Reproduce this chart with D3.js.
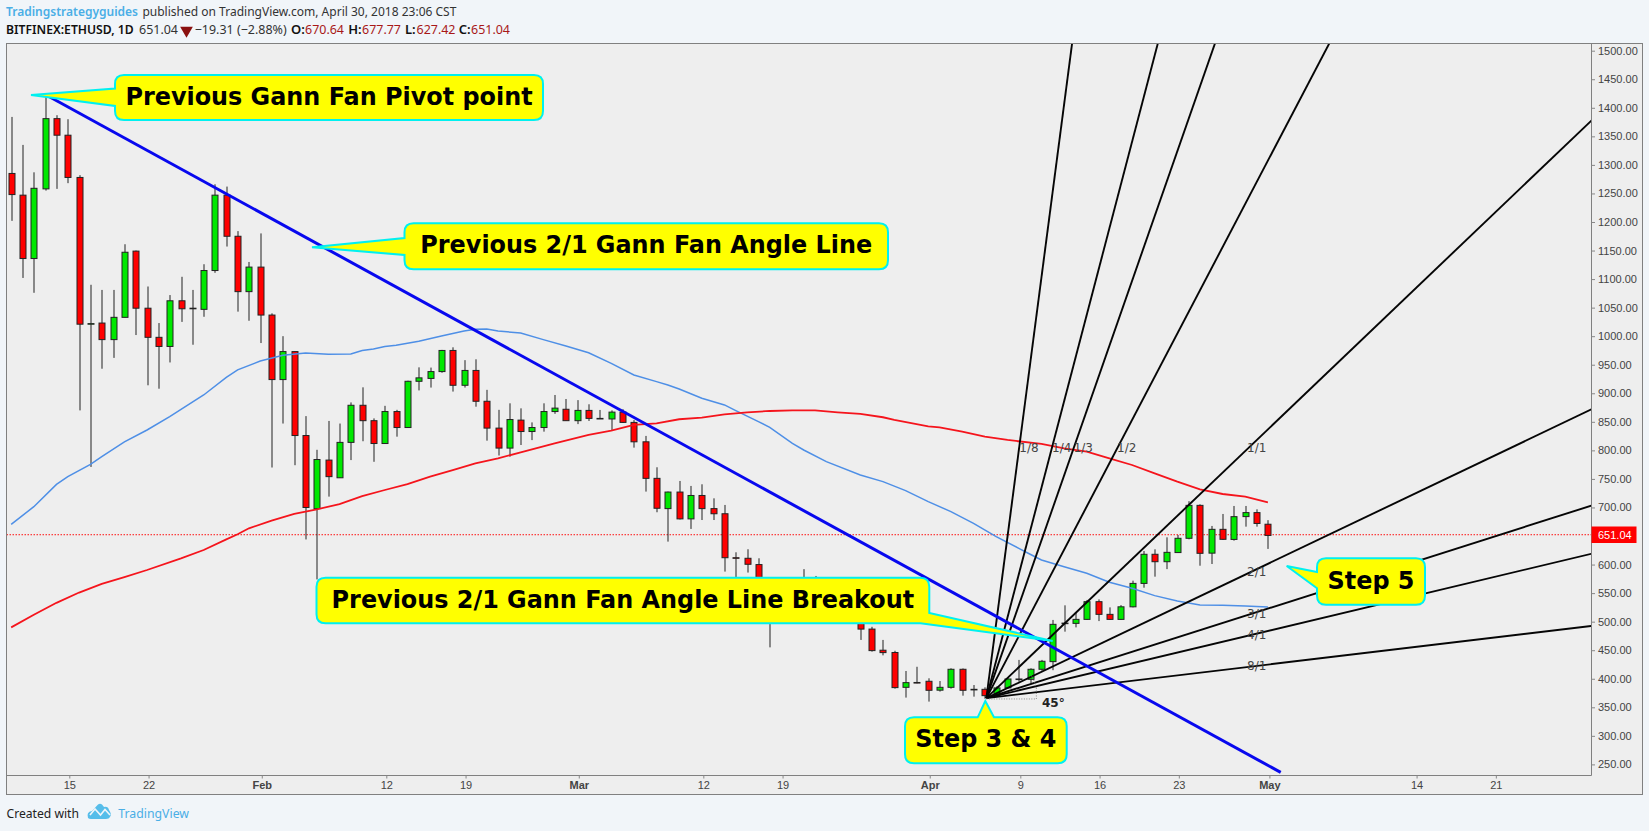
<!DOCTYPE html>
<html>
<head>
<meta charset="utf-8">
<script src="https://cdn.jsdelivr.net/npm/d3@7/dist/d3.min.js"></script>
<style>
html,body{margin:0;padding:0;background:#f1f5f9;overflow:hidden}
svg{display:block}
</style>
</head>
<body>
<svg id="c" width="1649" height="831"></svg>
<script>
// ---------- data: daily candles starting 2018-01-10 ----------
const firstDay = "2018-01-10";
const opens = [
 1285,1247,1136,1258,1381,1352,1278,1021,1023,994,1033,1149,1049,998,982,1062,1048,1047,1115,1247,1175,1078,
 1121,1037,924,973,826,698,783,752,814,879,852,812,868,840,921,926,938,975,914,940,886,839,804,853,833,840,868,872,
 852,870,856,855,867,849,815,751,698,727,680,721,698,689,612,611,600,545,538,555,525,560,540,537,525,523,487,450,446,385,393.5,
 395.6,380,385,416.6,381.5,381.5,371,384,399.6,399,416.6,430,497,497,504,535,512.8,504,526,567,618,605,621,646,703.7,620,661.7,644,684,691,
 670.64];
const highs = [
 1384,1335,1287,1422,1387,1380,1282,1090,1081,1081,1161,1150,1087,1023,1072,1104,1081,1126,1266,1262,1184,1130,
 1180,1040,1000,973,860,801,851.5,847,884,910.4,856,878,871,922,945.4,945,976,980.5,958,959.5,906,871,882.4,873.6,849,882.4,897,890,
 888,880.7,870.8,870,872,853,825.3,770.4,727.8,746.4,737.7,740.6,716,704.4,621.5,626.8,611,578,560,562,592,580,560,555,540,530,491,468,449,413.6,421,
 400.8,396,418.3,418,389,385,387,400.8,433,418.3,433,503,528.6,516,538,539,525,529,571.8,623.8,626.7,647.7,651.8,711,705.5,667.6,688.6,702.6,702.6,696.7,
 677.77];
const lows = [
 1202,1102,1076,1255,1258,1268,870,771,943,962,1033,1002,914,908,954,1025,985,1034,1111,1157,1043,1027,
 988,770,847,774,644,574,719,752,783,816,780,812,824,840,905,910,936,903,910,876.5,817,791,789,809.4,818,832.8,864,852,
 846,851.5,855,835.8,848,804.8,727.8,691.6,640.2,679,662.4,678,678,587.7,572,586,535,455,525,515,515,530,510,515,505,468,447.5,441,382.7,367,392,
 360,377.5,382.7,370.4,368.7,365,370,383,395,392,414,415,482.5,490,503,501,503,503,525,559.5,578.8,592,620.8,644.2,598,601,643,641.9,666.4,666.4,
 627.42];
const closes = [
 1248,1136,1259,1381,1352,1278,1021,1022,994,1033,1147,1049,998,982,1062,1048,1049,1115,1247,1175,1078,1121,
 1037,924,973,826,700,784,754,814,879,852,812,868,840,921,927,938,975,914,940,886,839,804,854,833,840,868,874,852,
 870,856,855.5,867,849,815,751,698.6,727,680,721,698,689,612,611.5,600.5,545,538,555,525,560,540,537,525,523,487,449.3,445.8,384.5,393.2,393,
 379.8,385,416.6,379.8,381,370.4,384,399.6,399,416.6,430.6,495.3,497.5,504,535,512.8,504,526,567,618,605,621.4,646,703.7,619.7,661.7,644.2,683.9,691,672,
 651.04];

const lastPrice = 651.04;

// moving averages: candle index and value at each point
const blueIdx = [0,2,4,5,7,8,10,12,14,17,19,20,22,24,26,28,30,31,32,33,34,36,38,40,41,42,43,45,47,49,51,53,55,57,58,59,61,63,64,66,67,69,70,72,75,77,79,81,83,85,87,89,90,91,93,95,97,99,101,103,105,107,109,111];
const blueVal = [670.5,701.4,740.5,754,775.6,789,815,835.7,859,897,928,941,956.5,966.5,970.5,968.2,968.8,975,977.5,982,984,991,1000.3,1009,1012,1012.6,1009,1005.6,994,982.9,971,952.5,932,920.4,914.6,907.6,891.2,879.6,869.6,850.4,840.4,812.4,800.7,780.3,757,745.3,729.5,710.3,692.7,672.3,648.9,628.4,618,608,596.3,584.7,568.9,558.4,545.6,536.2,529.2,528.6,527.4,525.7];
const redIdx = [0,2,4,6,8,10,12,15,17,19,20,21,23,25,27,29,31,33,35,37,39,41,43,45,48,51,53,55,57,59,61,63,65,67,69,71,73,75,77,78,81,82,84,86,88,91,93,95,97,99,101,103,105,107,109,111];
const redVal = [490,512,533,551,566,578,590.5,610.9,625.5,644.2,653,663.5,677,688.6,696.8,706,720,730.6,741,754,765.6,777.3,786,796.6,812.4,827,834.6,844.5,847.4,854.5,857.4,863.2,866.7,869,870.2,870.2,866.7,863.8,858,853.3,842.2,840.4,832.9,824.1,818.2,811.2,803.6,797.7,786,774.4,759.8,745.2,731.8,723.6,719,709];

// previous 2/1 trend line
const trendDates = ["2018-01-13","2018-05-02"];
const trendVals = [1422,236];

// Gann fan
const fanOriginDate = "2018-04-06";
const fanOriginVal = 366;
const fanUnitPerDay = 18.93;
const fanLabels = ["1/8","1/4","1/3","1/2","1/1","2/1","3/1","4/1","8/1"];
const fanPriceFactor = [8,4,3,2,1,1/2,1/3,1/4,1/8];

// axes
const priceTicks = [250,300,350,400,450,500,550,600,700,750,800,850,900,950,1000,1050,1100,1150,1200,1250,1300,1350,1400,1450,1500];
const dateTicks = ["2018-01-15","2018-01-22","2018-02-01","2018-02-12","2018-02-19","2018-03-01","2018-03-12","2018-03-19","2018-04-01","2018-04-09","2018-04-16","2018-04-23","2018-05-01","2018-05-14","2018-05-21"];
const dateTickLabels = ["15","22","Feb","12","19","Mar","12","19","Apr","9","16","23","May","14","21"];

// callout texts
const callouts = ["Previous Gann Fan Pivot point","Previous 2/1 Gann Fan Angle Line","Previous 2/1 Gann Fan Angle Line Breakout","Step 3 & 4","Step 5"];

// ---------- layout ----------
const pane = {l:6.5,t:43.5,r:1591.5,b:775.5,outerR:1642.5,outerB:794.5};
const svg = d3.select("#c");
const day = s => new Date(s+"T00:00:00Z");
const x = d3.scaleUtc().domain([day("2018-01-15"),day("2018-05-01")]).range([69.3,1269.4]);
const y = d3.scaleLinear().domain([1500,250]).range([50.7,764.4]);
const dateOf = i => d3.utcDay.offset(day(firstDay),i);
const candles = opens.map((o,i)=>({date:dateOf(i),o,h:highs[i],l:lows[i],c:closes[i]}));

const SANS = "'Noto Sans','Open Sans',sans-serif";
const ARIAL = "'Liberation Sans',Arial,sans-serif";
const BOLD = "'DejaVu Sans',sans-serif";

// frames
svg.append("rect").attr("x",pane.l).attr("y",pane.t).attr("width",pane.outerR-pane.l).attr("height",pane.outerB-pane.t)
  .attr("fill","#eeeeee").attr("stroke","#808080").attr("stroke-width",1);
svg.append("path").attr("d",`M${pane.r},${pane.t}V${pane.b}H${pane.l}`).attr("fill","none").attr("stroke","#808080");
svg.append("clipPath").attr("id","pane").append("rect")
  .attr("x",pane.l+.5).attr("y",pane.t+.5).attr("width",pane.r-pane.l-1).attr("height",pane.b-pane.t-1);

// axes
const yAxis = svg.append("g").attr("transform",`translate(${pane.r},0)`)
  .call(d3.axisRight(y).tickValues(priceTicks).tickSize(3.5).tickPadding(3).tickFormat(d3.format(".2f")));
yAxis.select(".domain").remove();
yAxis.selectAll("line").attr("stroke","#888");
yAxis.selectAll("text").attr("font-family",ARIAL).attr("font-size",11).attr("fill","#444");

const xAxis = svg.append("g").attr("transform",`translate(0,${pane.b})`)
  .call(d3.axisBottom(x).tickValues(dateTicks.map(day)).tickSize(3).tickPadding(3).tickFormat((d,i)=>dateTickLabels[i]));
xAxis.select(".domain").remove();
xAxis.selectAll("line").attr("stroke","#888");
xAxis.selectAll("text").attr("font-family",ARIAL).attr("font-size",11).attr("fill","#444")
  .attr("font-weight",(d,i)=>/[A-Z]/.test(dateTickLabels[i])?"bold":"normal");

const plot = svg.append("g").attr("clip-path","url(#pane)");

// last price line
plot.append("line").attr("x1",pane.l).attr("x2",pane.r).attr("y1",y(lastPrice)-.7).attr("y2",y(lastPrice)-.7)
  .attr("stroke","#ff1010").attr("stroke-width",1).attr("stroke-dasharray","1.5 1.5");

// candles and moving averages sit half a bar step left of the date ticks
const series = plot.append("g").attr("transform","translate(-1.5,0)");
const cg = series.append("g");
cg.selectAll("line").data(candles).join("line")
  .attr("x1",d=>Math.round(x(d.date))+.5).attr("x2",d=>Math.round(x(d.date))+.5)
  .attr("y1",d=>y(d.h)).attr("y2",d=>y(d.l)).attr("stroke","#222").attr("stroke-width",1);
cg.selectAll("rect").data(candles).join("rect")
  .attr("x",d=>Math.round(x(d.date))-2.5).attr("width",6)
  .attr("y",d=>y(Math.max(d.o,d.c))).attr("height",d=>Math.max(.6,Math.abs(y(d.o)-y(d.c))))
  .attr("fill",d=>d.c>=d.o?"#00e800":"#ff0000").attr("stroke","#222").attr("stroke-width",1);

const line = d3.line().x(d=>x(dateOf(d[0]))).y(d=>y(d[1]));
series.append("path").attr("d",line(blueIdx.map((k,i)=>[k,blueVal[i]]))).attr("fill","none").attr("stroke","#4e8fe6").attr("stroke-width",1.5);
series.append("path").attr("d",line(redIdx.map((k,i)=>[k,redVal[i]]))).attr("fill","none").attr("stroke","#f5141c").attr("stroke-width",1.8);

// Gann fan
const ox = x(day(fanOriginDate)), oy = y(fanOriginVal);
fanPriceFactor.forEach(f=>{
  const far = 400;
  plot.append("line").attr("x1",ox).attr("y1",oy)
    .attr("x2",x(d3.utcDay.offset(day(fanOriginDate),far)))
    .attr("y2",y(fanOriginVal+fanUnitPerDay*far*f))
    .attr("stroke","#050505").attr("stroke-width",1.9);
});
// 45 degree arc
const rr = 50;
plot.append("path").attr("d",`M${ox},${oy+.8}H${ox+rr}V${oy-10}`).attr("fill","none")
  .attr("stroke","#888").attr("stroke-width",1).attr("stroke-dasharray","1 1.5");
plot.append("path").attr("d",`M${ox+rr},${oy-10}A${rr},${rr} 0 0 0 ${ox+rr*.8},${oy-30}`).attr("fill","none")
  .attr("stroke","#888").attr("stroke-width",1).attr("stroke-dasharray","1 1.5");
plot.append("text").attr("x",1042).attr("y",707).attr("font-family",BOLD).attr("font-weight","bold").attr("font-size",12).attr("fill","#222").text("45°");

const fanLabelPos = [[1029,447],[1061.7,447],[1083.3,447],[1126.7,447],[1256.7,447],[1256.7,571.7],[1256.7,613.3],[1256.7,634.3],[1256.7,665.7]];
fanLabels.forEach((t,i)=>{
  plot.append("text").attr("x",fanLabelPos[i][0]).attr("y",fanLabelPos[i][1]+4.5).attr("text-anchor","middle")
    .attr("font-family",BOLD).attr("font-size",12).attr("fill","#444").text(t);
});

// previous trend line
plot.append("line").attr("x1",x(day(trendDates[0]))).attr("y1",y(trendVals[0]))
  .attr("x2",x(day(trendDates[1]))).attr("y2",y(trendVals[1]))
  .attr("stroke","#0808ee").attr("stroke-width",3);

// callouts
function bubble(b){
  const r=9,{x0,y0,x1,y1}=b;
  let d=`M${x0+r},${y0}`;
  if(b.top) d+=`L${b.top[0]},${y0}L${b.tip[0]},${b.tip[1]}L${b.top[1]},${y0}`;
  d+=`L${x1-r},${y0}Q${x1},${y0} ${x1},${y0+r}`;
  if(b.corner){ d+=`L${x1},${b.corner[0]}L${b.tip[0]},${b.tip[1]}L${b.corner[1]},${y1}`; }
  else { d+=`L${x1},${y1-r}Q${x1},${y1} ${x1-r},${y1}`; }
  d+=`L${x0+r},${y1}Q${x0},${y1} ${x0},${y1-r}`;
  if(b.left) d+=`L${x0},${b.left[1]}L${b.tip[0]},${b.tip[1]}L${x0},${b.left[0]}`;
  d+=`L${x0},${y0+r}Q${x0},${y0} ${x0+r},${y0}Z`;
  return d;
}
const bubbles = [
 {x0:115,y0:75,x1:543,y1:120,left:[88.6,106],tip:[31,95]},
 {x0:404.5,y0:223.3,x1:888,y1:269.3,left:[238,255],tip:[312,247.3]},
 {x0:316.5,y0:577.7,x1:929.3,y1:623.3,corner:[613,920.5],tip:[1052.7,641]},
 {x0:905,y0:717.3,x1:1066.7,y1:763.3,top:[977.7,994],tip:[985.3,701]},
 {x0:1317,y0:558.3,x1:1425,y1:604.7,left:[572,588.3],tip:[1286.7,566]}
];
bubbles.forEach((b,i)=>{
  svg.append("path").attr("d",bubble(b)).attr("fill","#ffff00").attr("stroke","#00f0f0").attr("stroke-width",2).attr("stroke-linejoin","miter");
  svg.append("text").attr("x",(b.x0+b.x1)/2).attr("y",(b.y0+b.y1)/2+7).attr("text-anchor","middle")
    .attr("font-family",BOLD).attr("font-weight","bold").attr("font-size",23.9).attr("fill","#000").text(callouts[i]);
});

// last price label
svg.append("rect").attr("x",pane.r).attr("y",526.5).attr("width",45).attr("height",16.5).attr("fill","#ff0000");
svg.append("text").attr("x",1598).attr("y",539).attr("font-family",ARIAL).attr("font-size",11).attr("fill","#fff").text(d3.format(".2f")(lastPrice));

// header
const t = (s,xp,yp,o={})=>{
  const e = svg.append("text").attr("x",xp).attr("y",yp).attr("font-family",SANS).attr("font-size",o.size||12.5)
   .attr("font-weight",o.w||"normal").attr("fill",o.c||"#333").text(s);
  if(o.len) e.attr("textLength",o.len).attr("lengthAdjust","spacingAndGlyphs");
  return e;
};
t("Tradingstrategyguides",6,16,{c:"#4aaee6",w:"600",size:13,len:132});
t("published on TradingView.com, April 30, 2018 23:06 CST",142.4,16,{c:"#333",size:13,len:314});
t("BITFINEX:ETHUSD, 1D",6,34,{c:"#111",w:"600",size:13,len:127.7});
t("651.04",139,34,{c:"#333",size:13,len:39});
svg.append("path").attr("d",d3.symbol(d3.symbolTriangle,70)()).attr("transform","translate(186.5,30.5) rotate(180)").attr("fill","#8a1010");
t("−19.31 (−2.88%)",194.7,34,{c:"#333",size:13,len:92});
t("O:",291,34,{c:"#111",w:"600",size:13}); t("670.64",305,34,{c:"#a81818",size:13,len:39});
t("H:",348.3,34,{c:"#111",w:"600",size:13}); t("677.77",362,34,{c:"#a81818",size:13,len:39});
t("L:",405,34,{c:"#111",w:"600",size:13}); t("627.42",416.5,34,{c:"#a81818",size:13,len:39});
t("C:",458.8,34,{c:"#111",w:"600",size:13}); t("651.04",471,34,{c:"#a81818",size:13,len:39});

// footer
t("Created with",6.5,818,{c:"#222",size:13,len:72.5});
t("TradingView",118.3,818,{c:"#4aaee6",size:13,len:70.7});
svg.append("path").attr("d","M88,818 Q86,812 92,811 L98,804.5 Q100,803 102,804.5 L104,807 Q108,806 109,810 Q112,814 110,817 Q109,819 106,819 L91,819 Q89,819 88,818Z").attr("fill","#56bdea");
svg.append("path").attr("d","M90,815 L95,809 L100.5,815 L105,809.5 L110,815").attr("fill","none").attr("stroke","#f1f5f9").attr("stroke-width",1.6);
</script>
</body>
</html>
